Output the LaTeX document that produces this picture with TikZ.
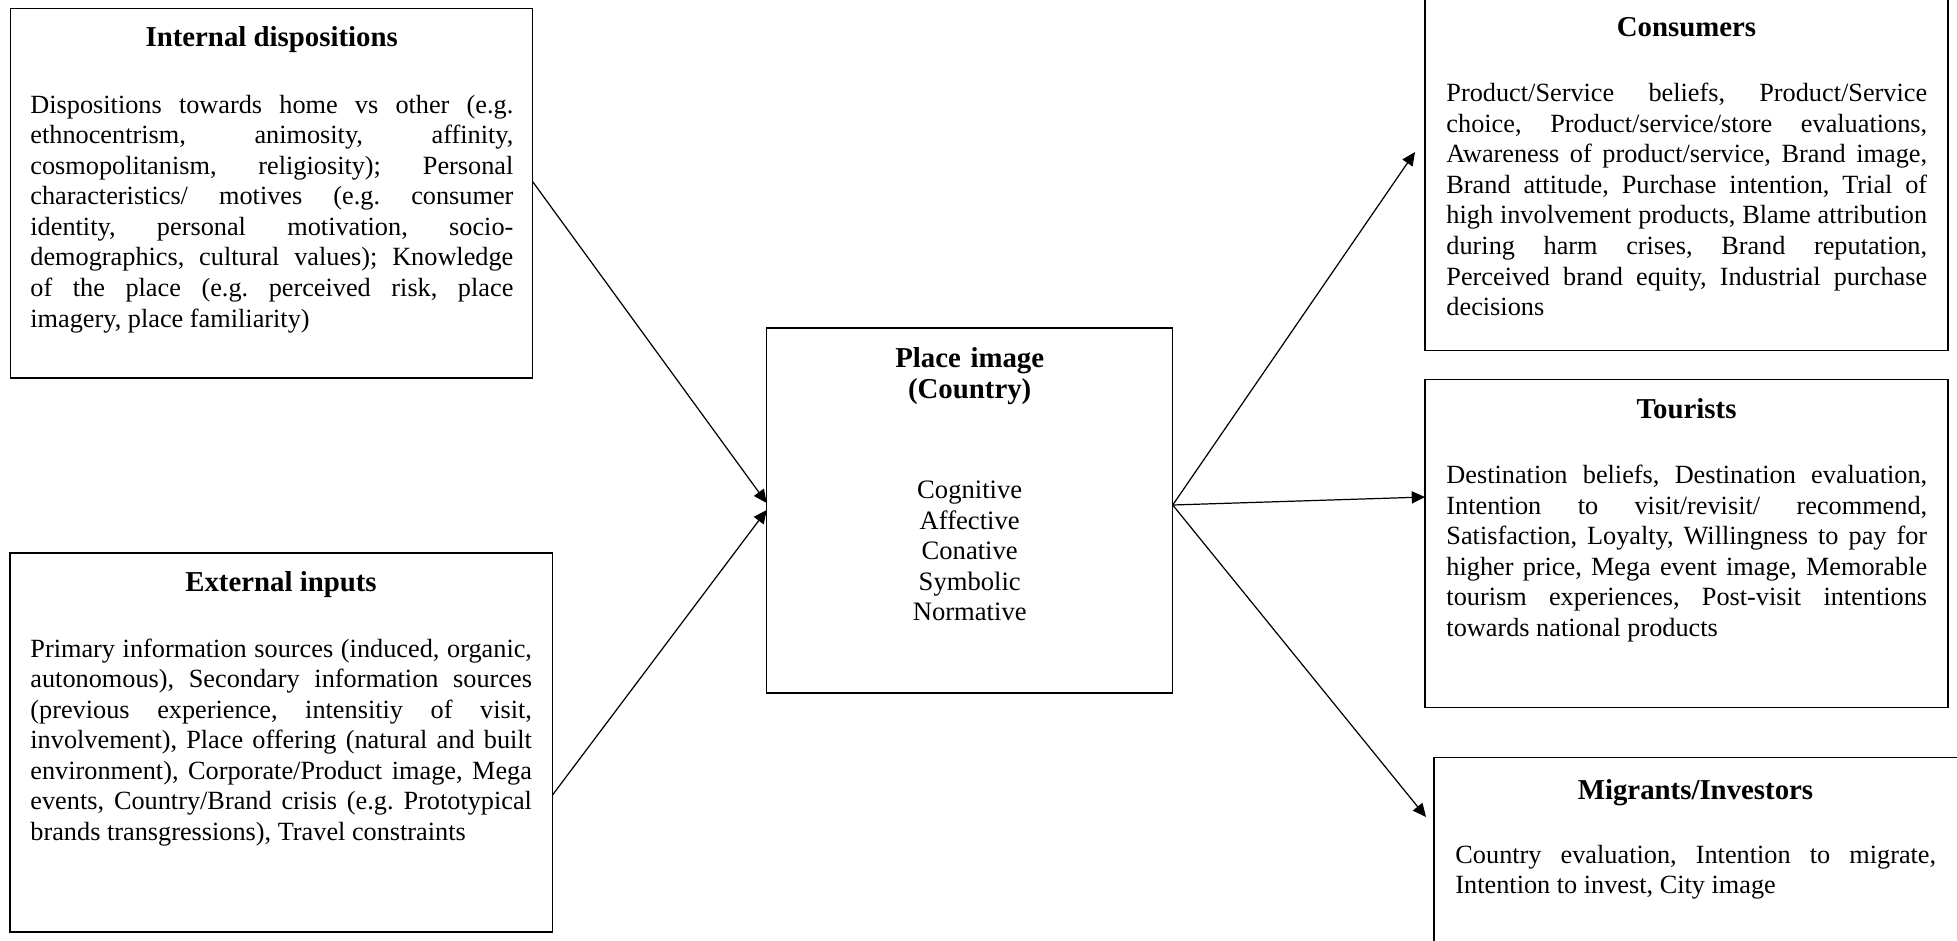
\documentclass[tikz,border=0pt]{standalone}
\usepackage{fontspec}
\setmainfont{Liberation Serif}
\usetikzlibrary{arrows.meta,calc,fit}

\begin{document}
\frenchspacing
\begin{tikzpicture}[
  x=0.451pt, y=-0.451pt,
  box/.style={draw, line width=0.6pt, inner sep=0pt, outer sep=0pt},
  ttl/.style={font=\bfseries\fontsize{13}{14}\selectfont, anchor=base, inner sep=0pt},
  body/.style={font=\fontsize{11.85}{13.8}\selectfont, align=justify, anchor=base west, inner sep=0pt},
  arr/.style={-{Triangle[length=6pt,width=5.5pt]}, line width=0.55pt}
]
\useasboundingbox (0,0) rectangle (1957,941);
\clip (0,0) rectangle (1957,941);

% ---- boxes ----
\node[box, fit={(10.7,8.7) (532.7,378)}]   (intl)  {};
\node[box, fit={(10,553) (552.5,932)}]     (ext)   {};
\node[box, fit={(766.7,328) (1172.7,693)}] (place) {};
\node[box, fit={(1425,-2) (1948,350.7)}]   (cons)  {};
\node[box, fit={(1425,379.4) (1948,707.6)}] (tour) {};
\node[box, fit={(1434,757.5) (1958,945)}]  (mig)   {};

% ---- internal dispositions ----
\node[ttl] (intlT) at (271.7,46) {Internal dispositions};
\node[body, text width=217.8pt] (intlB) at (30,113) {Dispositions towards home vs other (e.g.\linebreak
ethnocentrism, animosity, affinity,\linebreak
cosmopolitanism, religiosity); Personal\linebreak
characteristics/ motives (e.g. consumer\linebreak
identity, personal motivation, socio-\linebreak
demographics, cultural values); Knowledge\linebreak
of the place (e.g. perceived risk, place\linebreak
imagery, place familiarity)};

% ---- external inputs ----
\node[ttl] (extT) at (281,591.5) {External inputs};
\node[body, text width=226.2pt] (extB) at (30,657) {Primary information sources (induced, organic,\linebreak
autonomous), Secondary information sources\linebreak
(previous experience, intensitiy of visit,\linebreak
involvement), Place offering (natural and built\linebreak
environment), Corporate/Product image, Mega\linebreak
events, Country/Brand crisis (e.g. Prototypical\linebreak
brands transgressions), Travel constraints};

% ---- place image ----
\node[ttl, text width=160pt, align=center] (placeT) at (969.7,367) {Place image\\(Country)};
\node[font=\fontsize{12}{13.8}\selectfont, text width=120pt, align=center, anchor=base, inner sep=0pt]
  (placeB) at (969.7,498.5) {Cognitive\\Affective\\Conative\\Symbolic\\Normative};

% ---- consumers ----
\node[ttl] (consT) at (1686.5,36) {Consumers};
\node[body, text width=216.8pt] (consB) at (1446,101.6) {Product/Service beliefs, Product/Service\linebreak
choice, Product/service/store evaluations,\linebreak
Awareness of product/service, Brand image,\linebreak
Brand attitude, Purchase intention, Trial of\linebreak
high involvement products, Blame attribution\linebreak
during harm crises, Brand reputation,\linebreak
Perceived brand equity, Industrial purchase\linebreak
decisions};

% ---- tourists ----
\node[ttl] (tourT) at (1686.5,418) {Tourists};
\node[body, text width=216.8pt] (tourB) at (1446,483.5) {Destination beliefs, Destination evaluation,\linebreak
Intention to visit/revisit/ recommend,\linebreak
Satisfaction, Loyalty, Willingness to pay for\linebreak
higher price, Mega event image, Memorable\linebreak
tourism experiences, Post-visit intentions\linebreak
towards national products};

% ---- migrants / investors ----
\node[ttl] (migT) at (1695.5,799) {Migrants/Investors};
\node[body, text width=216.8pt] (migB) at (1455,863) {Country evaluation, Intention to migrate,\linebreak
Intention to invest, City image};

% ---- connectors ----
\draw[arr] ($(intl.north east)+(0,173)$) -- ($(place.north west)+(0,175)$);
\draw[arr] ($(ext.north east)+(0,242)$)  -- ($(place.north west)+(0,182)$);
\draw[arr] ($(place.north east)+(0,177)$) -- ($(cons.north west)+(-10,154)$);
\draw[arr] ($(place.north east)+(0,177)$) -- ($(tour.north west)+(0,117.6)$);
\draw[arr] ($(place.north east)+(0,177)$) -- ($(mig.north west)+(-8,59.5)$);
\end{tikzpicture}
\end{document}
